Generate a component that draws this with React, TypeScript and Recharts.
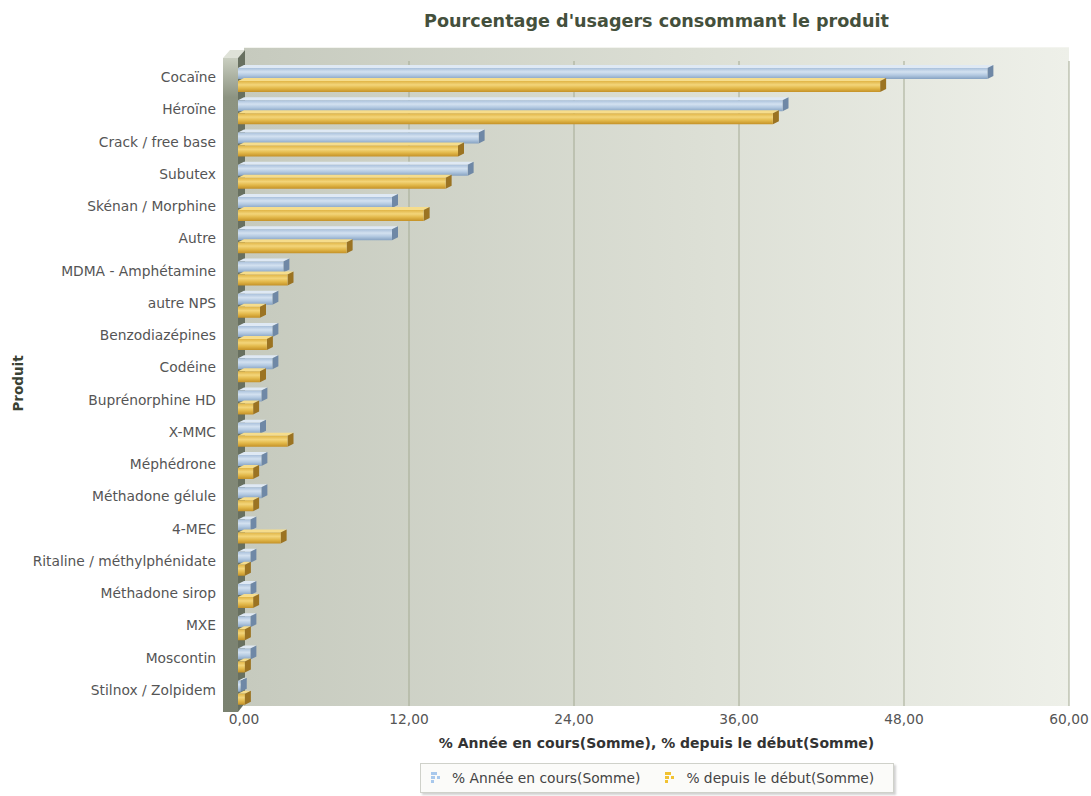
import React from "react";
import {
  BarChart,
  Bar,
  XAxis,
  YAxis,
  CartesianGrid,
  Legend,
  ReferenceArea,
} from "recharts";

const categories = [
  "Cocaïne",
  "Héroïne",
  "Crack / free base",
  "Subutex",
  "Skénan / Morphine",
  "Autre",
  "MDMA - Amphétamine",
  "autre NPS",
  "Benzodiazépines",
  "Codéine",
  "Buprénorphine HD",
  "X-MMC",
  "Méphédrone",
  "Méthadone gélule",
  "4-MEC",
  "Ritaline / méthylphénidate",
  "Méthadone sirop",
  "MXE",
  "Moscontin",
  "Stilnox / Zolpidem",
];
const anneeEnCours = [
  54.5, 39.6, 17.5, 16.7, 11.2, 11.2, 3.3, 2.5, 2.5, 2.5, 1.7, 1.6, 1.7, 1.7,
  0.9, 0.9, 0.9, 0.9, 0.9, 0.2,
];
const depuisDebut = [
  46.7, 38.9, 16.0, 15.1, 13.5, 7.9, 3.6, 1.6, 2.1, 1.6, 1.1, 3.6, 1.1, 1.1,
  3.1, 0.5, 1.1, 0.5, 0.5, 0.5,
];
const xTicks = [0, 12, 24, 36, 48, 60];

const data = categories.map((produit, i) => ({
  produit,
  annee: anneeEnCours[i],
  debut: depuisDebut[i],
}));

const DX = 6;
const DY = 3;

// 3d-looking bar: front face shifted left/down from the scaled box
const makeBar = (front: string, top: string, side: string) => (props: any) => {
  const { x, y, width, height } = props;
  if (width == null || height == null) return null;
  const fx = x - DX;
  const fy = y + DY;
  return (
    <g>
      <polygon
        points={`${fx},${fy} ${x},${y} ${x + width},${y} ${fx + width},${fy}`}
        fill={top}
      />
      <polygon
        points={`${fx + width},${fy} ${x + width},${y} ${x + width},${y + height} ${fx + width},${fy + height}`}
        fill={side}
      />
      <rect x={fx} y={fy} width={width} height={height} fill={front} />
    </g>
  );
};

const blueBar = makeBar("url(#blueFront)", "#dfe9f4", "#6f88a6");
const orangeBar = makeBar("url(#orangeFront)", "#f6dd8c", "#9b7322");

const Walls = (props: any) => {
  const { x, y, width, height } = props;
  const top = y - 14;
  const bottom = y + height;
  return (
    <g>
      <rect x={x} y={top} width={width} height={14} fill="url(#backWall)" />
      <line x1={x} y1={top + 0.5} x2={x + width} y2={top + 0.5} stroke="#f3f4ef" />
      <polygon
        points={`${x - 21},${top + 11} ${x - 14},${top + 3} ${x + 1},${top + 3} ${x - 6},${top + 11}`}
        fill="#dfe2d8"
      />
      <rect x={x - 21} y={top + 11} width={15} height={bottom - top - 5} fill="url(#wallFace)" />
      <polygon
        points={`${x - 6},${top + 11} ${x + 1},${top + 3} ${x + 1},${bottom - 3} ${x - 6},${bottom + 6}`}
        fill="#687060"
      />
    </g>
  );
};

const LegendIcon = ({ color }: { color: string }) => (
  <svg width={14} height={14} style={{ marginRight: 8, verticalAlign: "-2px" }}>
    <rect x={1} y={1} width={6} height={3} fill={color} />
    <rect x={1} y={5} width={4} height={3} fill={color} />
    <rect x={7} y={5} width={3} height={3} fill={color} />
    <rect x={1} y={9} width={3} height={3} fill={color} />
  </svg>
);

const renderLegend = (props: any) => {
  const { payload } = props;
  return (
    <div
      style={{
        height: 30,
        boxSizing: "border-box",
        border: "1px solid #cfd1ca",
        background: "#fbfbf9",
        boxShadow: "2px 2px 2px rgba(0,0,0,0.18)",
        display: "flex",
        alignItems: "center",
        paddingLeft: 9,
        fontSize: 13.8,
        color: "#444",
      }}
    >
      {(payload || []).map((entry: any, i: number) => (
        <span key={i} style={{ marginRight: 24, whiteSpace: "nowrap" }}>
          <LegendIcon color={entry.color} />
          {entry.value}
        </span>
      ))}
    </div>
  );
};

const renderProduit = (props: any) => {
  const vb = props.viewBox || { x: 0, y: 0, height: 0 };
  const cx = vb.x + 18;
  const cy = vb.y + vb.height / 2;
  return (
    <text
      x={cx}
      y={cy}
      transform={`rotate(-90 ${cx} ${cy})`}
      textAnchor="middle"
      dominantBaseline="central"
      fontWeight="bold"
      fontSize={13.5}
      fill="#3a4233"
    >
      Produit
    </text>
  );
};

const fmt = (v: number) => v.toFixed(2).replace(".", ",");

export default function App() {
  return (
    <div
      style={{
        position: "absolute",
        left: 0,
        top: 0,
        width: 1091,
        height: 796,
        background: "#fff",
        fontFamily: "'DejaVu Sans', sans-serif",
      }}
    >
      <svg width={0} height={0} style={{ position: "absolute" }}>
        <defs>
          <linearGradient id="backWall" x1="0" y1="0" x2="1" y2="0">
            <stop offset="0%" stopColor="#c6cabe" />
            <stop offset="55%" stopColor="#dcdfd5" />
            <stop offset="100%" stopColor="#eef0e9" />
          </linearGradient>
          <linearGradient id="wallFace" x1="0" y1="0" x2="0" y2="1">
            <stop offset="0%" stopColor="#c9cec0" />
            <stop offset="6%" stopColor="#8d9482" />
            <stop offset="100%" stopColor="#7a8170" />
          </linearGradient>
          <linearGradient id="blueFront" x1="0" y1="0" x2="0" y2="1">
            <stop offset="0%" stopColor="#a9c0db" />
            <stop offset="35%" stopColor="#d3e1f0" />
            <stop offset="65%" stopColor="#b3c9e1" />
            <stop offset="100%" stopColor="#86a2c2" />
          </linearGradient>
          <linearGradient id="orangeFront" x1="0" y1="0" x2="0" y2="1">
            <stop offset="0%" stopColor="#e0b445" />
            <stop offset="35%" stopColor="#f3d57a" />
            <stop offset="65%" stopColor="#e3b94b" />
            <stop offset="100%" stopColor="#c49127" />
          </linearGradient>
        </defs>
      </svg>
      <div
        style={{
          position: "absolute",
          top: 11,
          left: 244,
          width: 825,
          textAlign: "center",
          fontSize: 17.6,
          fontWeight: "bold",
          color: "#44503c",
        }}
      >
        Pourcentage d'usagers consommant le produit
      </div>
      <BarChart
        width={1091}
        height={796}
        data={data}
        layout="vertical"
        margin={{ top: 61, right: 22, bottom: 40, left: 0 }}
        barGap={2}
      >
        <CartesianGrid
          horizontal={false}
          stroke="#a4aa93"
          fill="url(#backWall)"
          fillOpacity={1}
        />
        <ReferenceArea x1={0} x2={60} shape={Walls} ifOverflow="visible" />
        <XAxis
          type="number"
          domain={[0, 60]}
          ticks={xTicks}
          tickFormatter={fmt}
          axisLine={false}
          tickLine={false}
          tick={{ fill: "#555", fontSize: 13.8 }}
          height={50}
          label={{
            value: "% Année en cours(Somme), % depuis le début(Somme)",
            position: "insideBottom",
            offset: 8,
            fontWeight: "bold",
            fontSize: 14,
            fill: "#333",
          }}
        />
        <YAxis
          type="category"
          dataKey="produit"
          width={244}
          axisLine={false}
          tickLine={false}
          tickSize={0}
          tickMargin={28}
          interval={0}
          tick={{ fill: "#555", fontSize: 13.8 }}
          label={renderProduit}
        />
        <Bar
          dataKey="annee"
          name="% Année en cours(Somme)"
          fill="#a8c8ec"
          barSize={11}
          shape={blueBar}
          isAnimationActive={false}
        />
        <Bar
          dataKey="debut"
          name="% depuis le début(Somme)"
          fill="#f1c232"
          barSize={11}
          shape={orangeBar}
          isAnimationActive={false}
        />
        <Legend
          layout="horizontal"
          verticalAlign="middle"
          align="center"
          wrapperStyle={{ left: 420, top: 763, width: 474, height: 30 }}
          content={renderLegend}
        />
      </BarChart>
    </div>
  );
}
